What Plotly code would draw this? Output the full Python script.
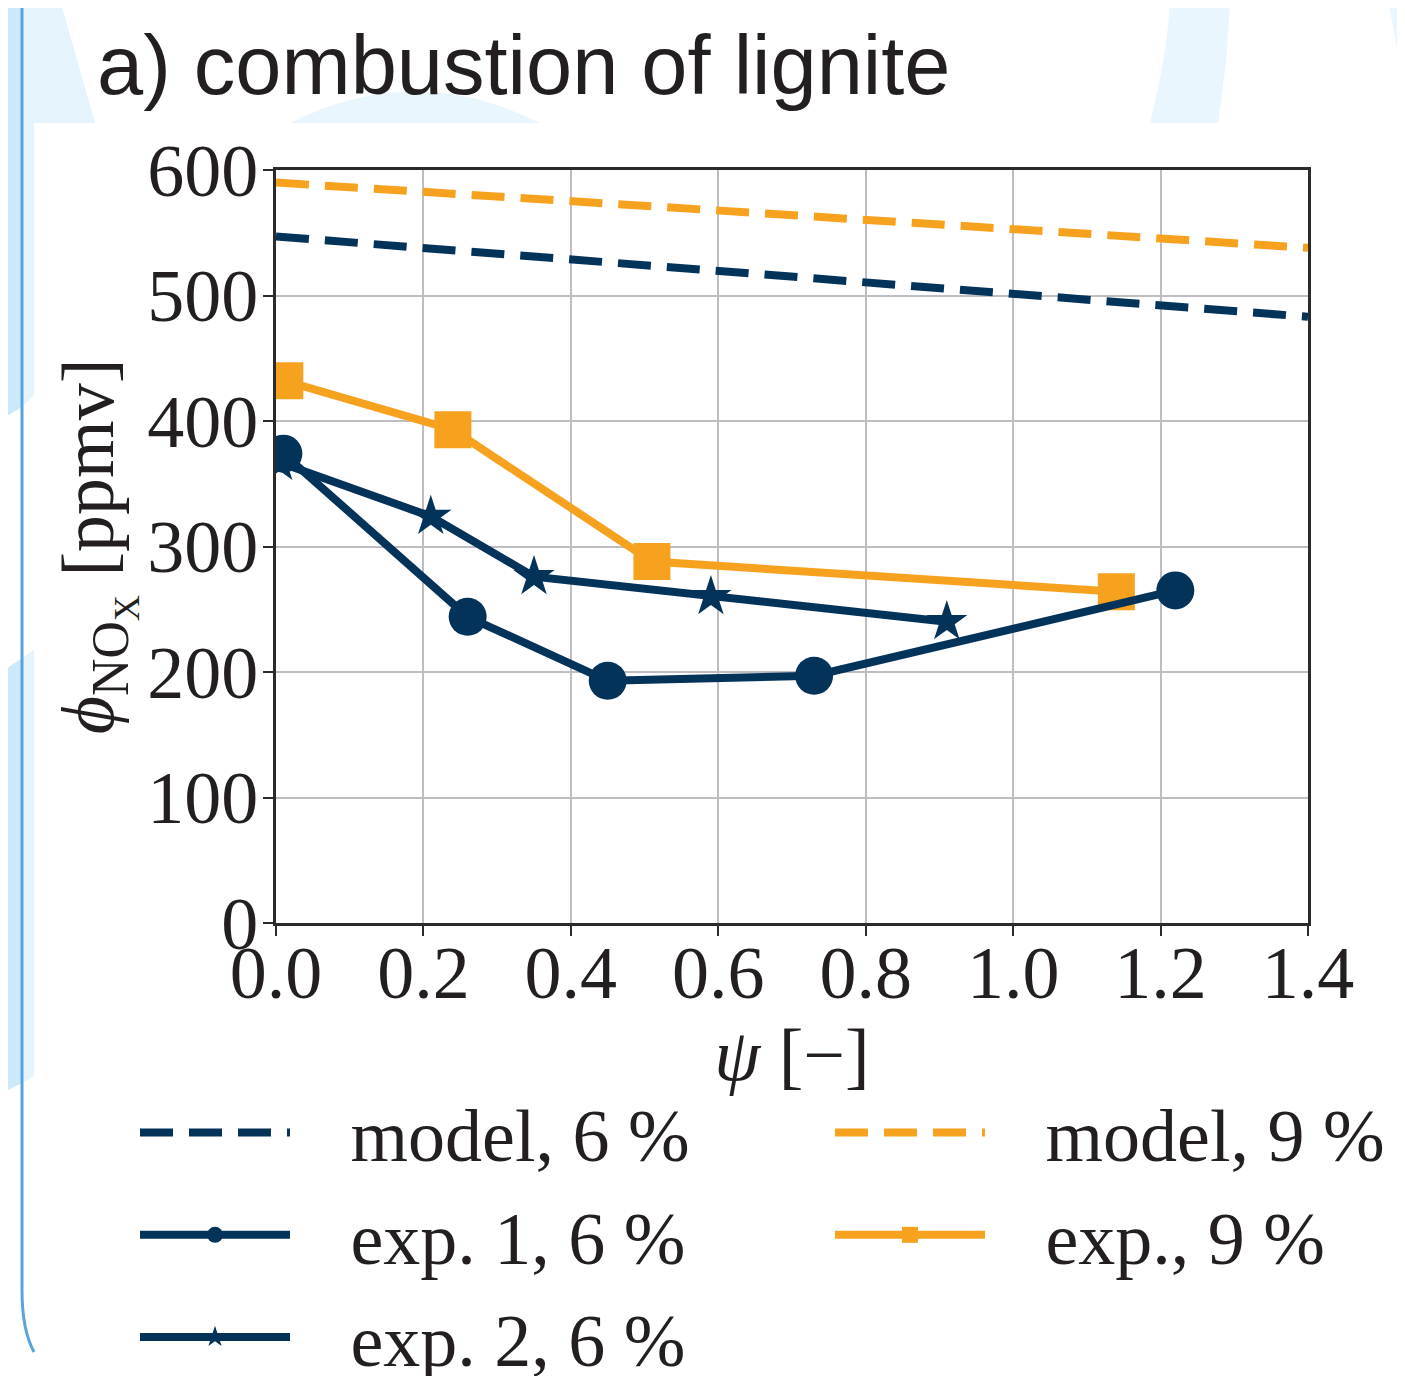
import plotly.graph_objects as go

# ---------------- data ----------------
model_x = [0.0, 1.4]
model6_y = [547, 483]
model9_y = [590, 538]

exp1_x = [0.01, 0.26, 0.45, 0.73, 1.22]
exp1_y = [374, 244, 193, 197, 265]

exp2_x = [0.005, 0.21, 0.35, 0.59, 0.91]
exp2_y = [367, 324, 276, 260, 240]

exp9_x = [0.012, 0.24, 0.51, 1.14]
exp9_y = [432, 393, 288, 264]

x_ticks = [0.0, 0.2, 0.4, 0.6, 0.8, 1.0, 1.2, 1.4]
y_ticks = [0, 100, 200, 300, 400, 500, 600]

NAVY = "#04335A"
ORANGE = "#F7A21F"
TXT = "#231F20"

OFF = 8  # default page body margin
W, H = 1405 - OFF, 1376 - OFF
L, R, T, B = 276, 1308, 170, 923  # plot area in reference px


def px(x):
    return (x - L) / (R - L)


def py(y):
    return (B - y) / (B - T)


def path(pts, close=True):
    s = "M " + " L ".join(f"{px(a):.5f},{py(b):.5f}" for a, b in pts)
    return s + (" Z" if close else "")


fig = go.Figure()

GAP = "\u00a0\u00a0\u00a0"
LW = 8
fig.add_trace(go.Scatter(x=model_x, y=model6_y, mode="lines", name=GAP + "model, 6 %",
                         line=dict(color=NAVY, width=LW, dash="33px,16px"),
                         legend="legend", legendgroup="a", legendrank=1))
fig.add_trace(go.Scatter(x=model_x, y=model9_y, mode="lines", name=GAP + "model, 9 %",
                         line=dict(color=ORANGE, width=LW, dash="33px,16px"),
                         legend="legend2", legendgroup="d", legendrank=1))
fig.add_trace(go.Scatter(x=exp9_x, y=exp9_y, mode="lines+markers", name=GAP + "exp., 9 %",
                         line=dict(color=ORANGE, width=LW),
                         marker=dict(symbol="square", size=37, color=ORANGE),
                         legend="legend2", legendgroup="e", legendrank=2))
fig.add_trace(go.Scatter(x=exp2_x, y=exp2_y, mode="lines+markers", name=GAP + "exp. 2, 6 %",
                         line=dict(color=NAVY, width=LW),
                         marker=dict(symbol="star", size=31, color=NAVY),
                         legend="legend", legendgroup="c", legendrank=3))
fig.add_trace(go.Scatter(x=exp1_x, y=exp1_y, mode="lines+markers", name=GAP + "exp. 1, 6 %",
                         line=dict(color=NAVY, width=LW),
                         marker=dict(symbol="circle", size=38, color=NAVY),
                         legend="legend", legendgroup="b", legendrank=2))

# ---------------- background decoration ----------------
LB = "#CBE9FA"
LB2 = "#E4F3FC"
LB3 = "#E9F6FD"
P = dict(xref="paper", yref="paper", layer="below")
shapes = [
    dict(type="path", path=path([(0, 0), (22, 0), (22, 407), (0, 420)]), fillcolor=LB, line_width=0, **P),
    dict(type="path", path=path([(22, 0), (34, 0), (34, 395), (22, 407)]), fillcolor=LB2, line_width=0, **P),
    dict(type="path", path=path([(0, 673), (22, 658), (22, 1083), (0, 1094)]), fillcolor=LB, line_width=0, **P),
    dict(type="path", path=path([(22, 658), (34, 650), (34, 1076), (22, 1083)]), fillcolor=LB2, line_width=0, **P),
    dict(type="path", path=path([(34, 0), (60, 0), (95, 123), (34, 123)]), fillcolor=LB2, line_width=0, **P),
    dict(type="path",
         path=f"M {px(290)},{py(123)} Q {px(415)},{py(60)} {px(540)},{py(123)} Z",
         fillcolor=LB3, line_width=0, **P),
    dict(type="path",
         path=f"M {px(1150)},{py(123)} Q {px(1168)},{py(50)} {px(1170)},{py(0)} L {px(1230)},{py(0)} "
              f"Q {px(1228)},{py(60)} {px(1218)},{py(123)} Z",
         fillcolor=LB3, line_width=0, **P),
    dict(type="path",
         path=f"M {px(1388)},{py(0)} Q {px(1398)},{py(50)} {px(1405)},{py(100)} L {px(1405)},{py(0)} Z",
         fillcolor=LB3, line_width=0, **P),
    dict(type="path",
         path=f"M {px(22)},{py(0)} L {px(22)},{py(1290)} Q {px(22)},{py(1330)} {px(34)},{py(1352)}",
         line=dict(color="#5BA3DC", width=3), **P),
]

FS = 74
leg_common = dict(
    orientation="v", xanchor="left", yanchor="top", itemwidth=150,
    font=dict(family="Liberation Serif", size=FS, color=TXT),
    bgcolor="rgba(0,0,0,0)", traceorder="grouped", tracegroupgap=3,
)

fig.update_layout(
    width=W, height=H,
    margin=dict(l=L - OFF, r=W - (R - OFF), t=T - OFF, b=H - (B - OFF), pad=0, autoexpand=False),
    paper_bgcolor="white", plot_bgcolor="white",
    font=dict(family="Liberation Serif", size=FS, color=TXT),
    shapes=shapes,
    showlegend=True,
    legend=dict(x=px(135), y=py(1078), **leg_common),
    legend2=dict(x=px(830), y=py(1078), **leg_common),
    annotations=[dict(
        text="a) combustion of lignite", xref="paper", yref="paper",
        x=px(95), y=py(66), xanchor="left", yanchor="middle", showarrow=False,
        font=dict(family="Liberation Sans", size=83, color=TXT),
    )],
    xaxis=dict(
        range=[0, 1.4], tickvals=x_ticks, ticktext=[f"{v:.1f}" for v in x_ticks],
        showgrid=True, gridcolor="#BEBEC2", gridwidth=2,
        showline=True, linecolor="#2B2B2B", linewidth=3, mirror=True,
        ticks="outside", ticklen=10, tickwidth=2, tickcolor="#2B2B2B",
        ticklabelstandoff=-27,
        zeroline=False,
        title=dict(text="<i>ψ</i> [−]", standoff=10, font=dict(size=FS)),
    ),
    yaxis=dict(
        range=[0, 600], tickvals=y_ticks,
        showgrid=True, gridcolor="#BEBEC2", gridwidth=2,
        showline=True, linecolor="#2B2B2B", linewidth=3, mirror=True,
        ticks="outside", ticklen=10, tickwidth=2, tickcolor="#2B2B2B",
        ticklabelstandoff=-10,
        zeroline=False,
        title=dict(text="<i>ϕ</i><sub>NO<sub>X</sub></sub> [ppmv]", standoff=6, font=dict(size=FS)),
    ),
)

fig.write_html("out.html")
